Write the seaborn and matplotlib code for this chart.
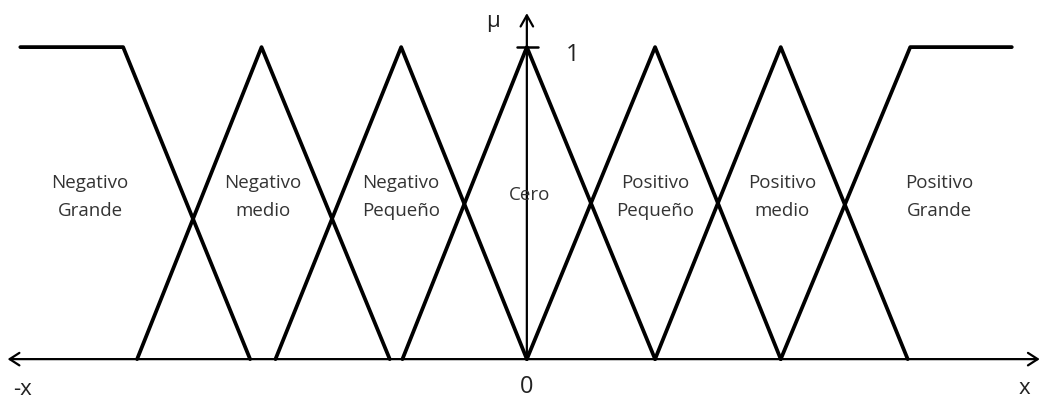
import pandas as pd
import matplotlib
matplotlib.use("Agg")
import matplotlib.pyplot as plt
import seaborn as sns

# Fuzzy sets (x in universe units, mu in 0..1)
set_names = ["Negativo\nGrande", "Negativo\nmedio", "Negativo\nPequeño", "Cero",
             "Positivo\nPequeño", "Positivo\nmedio", "Positivo\nGrande"]
ng_x = [-3.99, -3.18, -2.18]
ng_mu = [1, 1, 0]
nm_x = [-3.07, -2.09, -1.08]
np_x = [-1.98, -0.99, 0.0]
ce_x = [-0.98, 0.0, 1.01]
pp_x = [0.0, 1.01, 2.0]
pm_x = [1.01, 2.0, 3.0]
pg_x = [2.0, 3.02, 3.82]
pg_mu = [0, 1, 1]
tri_mu = [0, 1, 0]

# label anchor (x, mu) for each set name
label_x = [-3.44, -2.08, -0.99, 0.02, 1.01, 2.01, 3.25]
label_mu = [0.52, 0.52, 0.52, 0.525, 0.52, 0.52, 0.52]

xs = [ng_x, nm_x, np_x, ce_x, pp_x, pm_x, pg_x]
mus = [ng_mu, tri_mu, tri_mu, tri_mu, tri_mu, tri_mu, pg_mu]
rows = []
for name, x, mu in zip(set_names, xs, mus):
    for i, (a, b) in enumerate(zip(x, mu)):
        rows.append({"set": name, "order": i, "x": a, "mu": b})
df = pd.DataFrame(rows)

sns.set_style("white")
plt.rcParams['font.family'] = ['Open Sans', 'DejaVu Sans']

fig = plt.figure(figsize=(10.41, 4), dpi=100)
ax = fig.add_axes([0, 0, 1, 1])

sns.lineplot(data=df, x="x", y="mu", hue="set", units="set", estimator=None,
             sort=False, palette=["black"] * len(set_names), linewidth=2.7,
             legend=False, ax=ax)

ax.set_xlim(-4.15, 4.05)
ax.set_ylim(-0.131, 1.151)
ax.axis("off")

# axes with arrows
ax.annotate("", xy=(4.04, 0), xytext=(-4.09, 0),
            arrowprops=dict(arrowstyle="<->,head_length=0.7,head_width=0.45",
                            color="black", lw=1.6, shrinkA=0, shrinkB=0))
ax.annotate("", xy=(0, 1.109), xytext=(0, 0),
            arrowprops=dict(arrowstyle="->,head_length=0.8,head_width=0.45",
                            color="black", lw=1.6, shrinkA=0, shrinkB=0))
ax.plot([-0.08, 0.09], [1, 1], color="black", lw=1.8)

for name, lx, ly in zip(set_names, label_x, label_mu):
    ax.text(lx, ly, name, ha="center", va="center", fontsize=13.5,
            color="#333333", linespacing=1.75)

ax.text(0.36, 0.974, "1", ha="center", va="center", fontsize=17, color="#222222")
ax.text(-0.27, 1.083, "μ", ha="center", va="center", fontsize=16, color="#222222")
ax.text(0.0, -0.09, "0", ha="center", va="center", fontsize=17, color="#222222")
ax.text(-3.97, -0.097, "-x", ha="center", va="center", fontsize=16, color="#222222")
ax.text(3.92, -0.094, "x", ha="center", va="center", fontsize=16, color="#222222")

fig.savefig("out.png", dpi=100, facecolor="white")
